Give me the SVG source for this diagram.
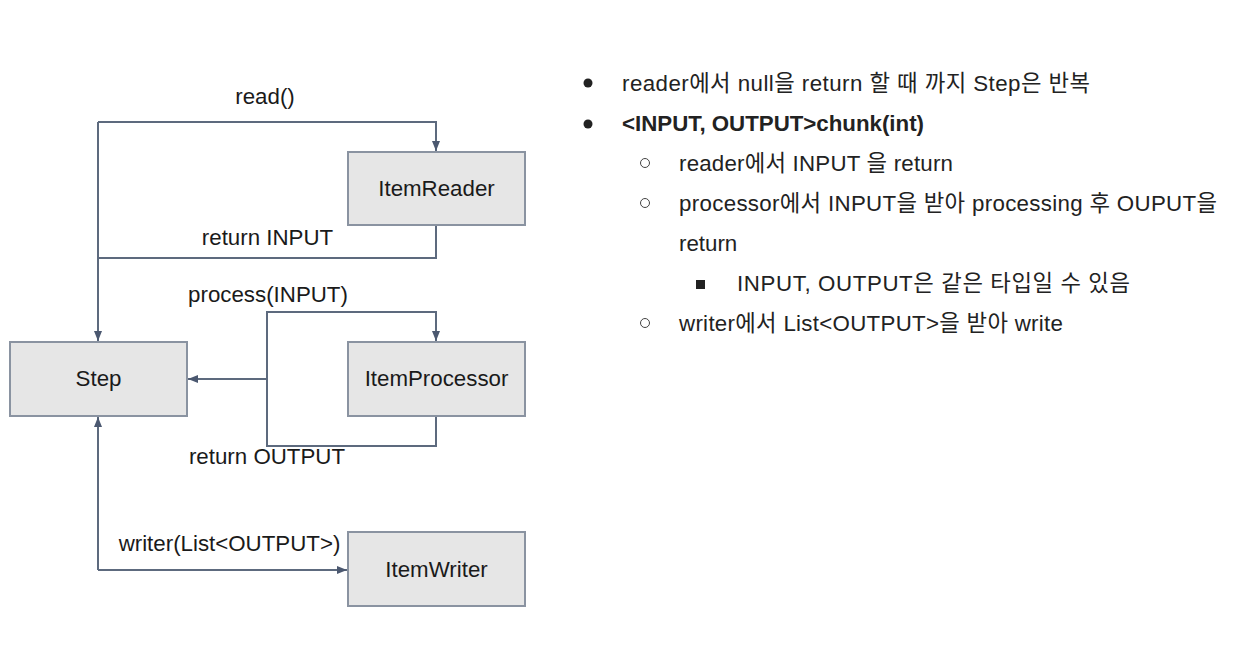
<svg xmlns="http://www.w3.org/2000/svg" width="1239" height="663" viewBox="0 0 1239 663">
<style>
.box{fill:#e6e6e6;stroke:#8a93a1;stroke-width:2}
.lbl{font-family:"Liberation Sans",Arial,sans-serif;font-size:22.3px;fill:#1a1a1a}
.c{text-anchor:middle}
.ln{fill:none;stroke:#5d6a7e;stroke-width:2}
.t{font-family:"Liberation Sans",Arial,"Noto Sans CJK KR",sans-serif;font-size:22.3px;fill:#222}
</style>
<defs>
<marker id="ah" viewBox="0 0 10 10" refX="10" refY="5" markerWidth="10" markerHeight="10" markerUnits="userSpaceOnUse" orient="auto">
<path d="M0,1 L10,5 L0,9 Z" fill="#4b5870"/>
</marker>
</defs>
<rect width="1239" height="663" fill="#fff"/>
<g id="connectors">
<path class="ln" d="M98,122 L436,122 L436,151" marker-end="url(#ah)"/>
<path class="ln" d="M98,122 L98,341" marker-end="url(#ah)"/>
<path class="ln" d="M436,226 L436,258 L98,258"/>
<path class="ln" d="M267,379 L267,312 L436,312 L436,341" marker-end="url(#ah)"/>
<path class="ln" d="M436,417 L436,446 L267,446 L267,379"/>
<path class="ln" d="M267,379 L188,379" marker-end="url(#ah)"/>
<path class="ln" d="M98,570 L98,417" marker-end="url(#ah)"/>
<path class="ln" d="M98,570 L347,570" marker-end="url(#ah)"/>
<text class="lbl c" x="265" y="104">read()</text>
<text class="lbl c" x="267.5" y="245">return INPUT</text>
<text class="lbl c" x="268" y="302">process(INPUT)</text>
<text class="lbl c" x="267" y="464">return OUTPUT</text>
<text class="lbl c" x="229.5" y="551">writer(List&lt;OUTPUT&gt;)</text>
</g>
<g id="itemreader">
<rect class="box" x="348" y="152" width="177" height="73"/>
<text class="lbl c" x="436.5" y="196">ItemReader</text>
</g>
<g id="step">
<rect class="box" x="10" y="342" width="177" height="74"/>
<text class="lbl c" x="98.5" y="386">Step</text>
</g>
<g id="itemprocessor">
<rect class="box" x="348" y="342" width="177" height="74"/>
<text class="lbl c" x="436.5" y="386">ItemProcessor</text>
</g>
<g id="itemwriter">
<rect class="box" x="348" y="532" width="177" height="74"/>
<text class="lbl c" x="436.5" y="577">ItemWriter</text>
</g>
<g id="notes">
<circle cx="588" cy="83" r="4.5" fill="#222"/>
<text class="t" x="622" y="91" textLength="468" lengthAdjust="spacing">reader에서 null을 return 할 때 까지 Step은 반복</text>
<circle cx="588" cy="124" r="4.5" fill="#222"/>
<text class="t" x="622" y="131" font-weight="bold" textLength="302" lengthAdjust="spacing">&lt;INPUT, OUTPUT&gt;chunk(int)</text>
<circle cx="645" cy="163" r="4.5" fill="none" stroke="#444" stroke-width="1"/>
<text class="t" x="679" y="171" textLength="274" lengthAdjust="spacing">reader에서 INPUT 을 return</text>
<circle cx="645" cy="203" r="4.5" fill="none" stroke="#444" stroke-width="1"/>
<text class="t" x="679" y="211" textLength="538" lengthAdjust="spacing">processor에서 INPUT을 받아 processing 후 OUPUT을</text>
<text class="t" x="679" y="251">return</text>
<rect x="696" y="280" width="9" height="9" fill="#222"/>
<text class="t" x="737" y="291" textLength="393" lengthAdjust="spacing">INPUT, OUTPUT은 같은 타입일 수 있음</text>
<circle cx="645" cy="323" r="4.5" fill="none" stroke="#444" stroke-width="1"/>
<text class="t" x="679" y="331" textLength="384" lengthAdjust="spacing">writer에서 List&lt;OUTPUT&gt;을 받아 write</text>
</g>
</svg>
